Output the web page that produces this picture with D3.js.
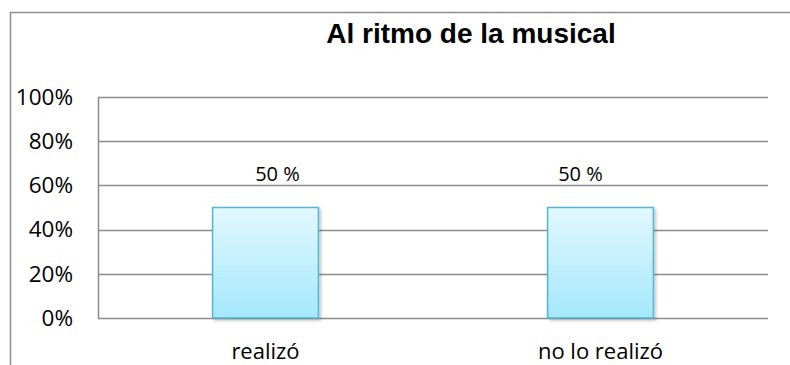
<!DOCTYPE html>
<html>
<head>
<meta charset="utf-8">
<script src="https://cdn.jsdelivr.net/npm/d3@7"></script>
<style>
  html, body { margin: 0; padding: 0; background: #fff; }
  svg { display: block; }
</style>
</head>
<body>
<svg id="chart" width="790" height="365"></svg>
<script>
// Chart data
const title = "Al ritmo de la musical";
const categories = ["realizó", "no lo realizó"];
const values = [0.5, 0.5];
const valueLabels = ["50 %", "50 %"];
const yTicks = [0, 0.2, 0.4, 0.6, 0.8, 1.0];

const W = 790, H = 365;
const plot = { left: 98, right: 768, top: 97, bottom: 318 };
const gridColor = "#8c8c8c";
const labelFont = "'Open Sans', Lato, sans-serif";
// Horizontal nudges of the value labels relative to their bar centres
const labelNudge = [12, -20];

const svg = d3.select("#chart");

const defs = svg.append("defs");
const grad = defs.append("linearGradient")
  .attr("id", "barFill").attr("x1", 0).attr("y1", 0).attr("x2", 0).attr("y2", 1);
grad.append("stop").attr("offset", "0%").attr("stop-color", "#e2f8ff");
grad.append("stop").attr("offset", "100%").attr("stop-color", "#a4e8fb");

const shadow = defs.append("filter").attr("id", "barShadow")
  .attr("x", "-10%").attr("y", "-10%").attr("width", "130%").attr("height", "130%");
shadow.append("feDropShadow")
  .attr("dx", 2).attr("dy", 2).attr("stdDeviation", 1.5)
  .attr("flood-color", "#000").attr("flood-opacity", 0.22);

// Outer frame (left and top edges)
svg.append("path")
  .attr("d", `M10.5,${H} L10.5,12.5 L${W},12.5`)
  .attr("fill", "none").attr("stroke", gridColor).attr("stroke-width", 1.5);

const x = d3.scaleBand().domain(categories).range([plot.left, plot.right]).padding(0);
const y = d3.scaleLinear().domain([0, 1]).range([plot.bottom, plot.top]);

// Horizontal gridlines
svg.append("g").selectAll("line").data(yTicks).join("line")
  .attr("x1", plot.left).attr("x2", plot.right)
  .attr("y1", d => Math.round(y(d)) + 0.5).attr("y2", d => Math.round(y(d)) + 0.5)
  .attr("stroke", gridColor).attr("stroke-width", 1.5);

// Vertical value axis
const yAxis = svg.append("g")
  .attr("transform", `translate(${plot.left},0)`)
  .call(d3.axisLeft(y).tickValues(yTicks).tickFormat(d3.format(".0%")).tickSize(0).tickPadding(25));
yAxis.select(".domain").attr("stroke", gridColor).attr("stroke-width", 1.5);
yAxis.selectAll("text")
  .attr("font-family", labelFont).attr("font-size", 22.5).attr("fill", "#000");

// Bars
const barW = x.bandwidth() * 0.316;
svg.append("g").selectAll("rect").data(categories).join("rect")
  .attr("x", d => x(d) + (x.bandwidth() - barW) / 2)
  .attr("y", (d, i) => y(values[i]))
  .attr("width", barW)
  .attr("height", (d, i) => y(0) - y(values[i]))
  .attr("fill", "url(#barFill)")
  .attr("stroke", "#52b5d0").attr("stroke-width", 1.5)
  .attr("filter", "url(#barShadow)");

// Value labels
svg.append("g").selectAll("text").data(categories).join("text")
  .attr("x", (d, i) => x(d) + x.bandwidth() / 2 + labelNudge[i])
  .attr("y", (d, i) => y(values[i]) - 27)
  .attr("text-anchor", "middle")
  .attr("font-family", labelFont).attr("font-size", 20)
  .text((d, i) => valueLabels[i]);

// Category labels
svg.append("g").selectAll("text").data(categories).join("text")
  .attr("x", d => x(d) + x.bandwidth() / 2)
  .attr("y", 359)
  .attr("text-anchor", "middle")
  .attr("font-family", labelFont).attr("font-size", 22)
  .text(d => d);

// Title
svg.append("text")
  .attr("x", 471).attr("y", 43)
  .attr("text-anchor", "middle")
  .attr("font-family", "'Liberation Sans', Arial, sans-serif")
  .attr("font-weight", "bold").attr("font-size", 28)
  .text(title);
</script>
</body>
</html>
